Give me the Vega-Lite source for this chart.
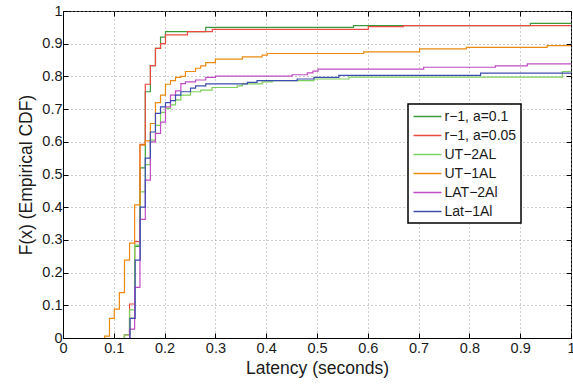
{
  "$schema": "https://vega.github.io/schema/vega-lite/v6.json",
  "width": 508,
  "height": 327,
  "autosize": "none",
  "padding": {"left": 63, "top": 11, "right": 2, "bottom": 47},
  "background": "white",
  "config": {
    "view": {"stroke": "black", "strokeWidth": 1},
    "font": "Liberation Sans",
    "axis": {
      "labelFont": "Liberation Sans",
      "titleFont": "Liberation Sans",
      "labelFontSize": 14.5,
      "titleFontSize": 17.5,
      "titleFontWeight": "normal",
      "labelColor": "#1a1a1a",
      "titleColor": "#1a1a1a",
      "domainColor": "black",
      "tickColor": "black",
      "gridColor": "#9a9a9a",
      "gridDash": [1, 3],
      "gridOpacity": 1,
      "tickSize": -5
    }
  },
  "data": {
    "values": [
      {"s": "r\u22121, a=0.1", "i": 0, "x": 0.121, "y": 0},
      {"s": "r\u22121, a=0.1", "i": 1, "x": 0.121, "y": 0.01},
      {"s": "r\u22121, a=0.1", "i": 2, "x": 0.131, "y": 0.06},
      {"s": "r\u22121, a=0.1", "i": 3, "x": 0.141, "y": 0.28},
      {"s": "r\u22121, a=0.1", "i": 4, "x": 0.1515, "y": 0.52},
      {"s": "r\u22121, a=0.1", "i": 5, "x": 0.162, "y": 0.753},
      {"s": "r\u22121, a=0.1", "i": 6, "x": 0.172, "y": 0.833},
      {"s": "r\u22121, a=0.1", "i": 7, "x": 0.182, "y": 0.886},
      {"s": "r\u22121, a=0.1", "i": 8, "x": 0.192, "y": 0.92},
      {"s": "r\u22121, a=0.1", "i": 9, "x": 0.2017, "y": 0.937},
      {"s": "r\u22121, a=0.1", "i": 10, "x": 0.281, "y": 0.95},
      {"s": "r\u22121, a=0.1", "i": 11, "x": 0.572, "y": 0.955},
      {"s": "r\u22121, a=0.1", "i": 12, "x": 0.92, "y": 0.962},
      {"s": "r\u22121, a=0.1", "i": 13, "x": 1.0, "y": 0.962},

      {"s": "r\u22121, a=0.05", "i": 0, "x": 0.121, "y": 0},
      {"s": "r\u22121, a=0.05", "i": 1, "x": 0.121, "y": 0.01},
      {"s": "r\u22121, a=0.05", "i": 2, "x": 0.131, "y": 0.104},
      {"s": "r\u22121, a=0.05", "i": 3, "x": 0.141, "y": 0.295},
      {"s": "r\u22121, a=0.05", "i": 4, "x": 0.1515, "y": 0.592},
      {"s": "r\u22121, a=0.05", "i": 5, "x": 0.162, "y": 0.776},
      {"s": "r\u22121, a=0.05", "i": 6, "x": 0.172, "y": 0.833},
      {"s": "r\u22121, a=0.05", "i": 7, "x": 0.182, "y": 0.886},
      {"s": "r\u22121, a=0.05", "i": 8, "x": 0.192, "y": 0.9},
      {"s": "r\u22121, a=0.05", "i": 9, "x": 0.2017, "y": 0.927},
      {"s": "r\u22121, a=0.05", "i": 10, "x": 0.245, "y": 0.937},
      {"s": "r\u22121, a=0.05", "i": 11, "x": 0.294, "y": 0.944},
      {"s": "r\u22121, a=0.05", "i": 12, "x": 0.601, "y": 0.952},
      {"s": "r\u22121, a=0.05", "i": 13, "x": 0.67, "y": 0.955},
      {"s": "r\u22121, a=0.05", "i": 14, "x": 1.0, "y": 0.955},

      {"s": "UT\u22122AL", "i": 0, "x": 0.121, "y": 0},
      {"s": "UT\u22122AL", "i": 1, "x": 0.121, "y": 0.01},
      {"s": "UT\u22122AL", "i": 2, "x": 0.131, "y": 0.086},
      {"s": "UT\u22122AL", "i": 3, "x": 0.141, "y": 0.284},
      {"s": "UT\u22122AL", "i": 4, "x": 0.1515, "y": 0.447},
      {"s": "UT\u22122AL", "i": 5, "x": 0.162, "y": 0.53},
      {"s": "UT\u22122AL", "i": 6, "x": 0.172, "y": 0.605},
      {"s": "UT\u22122AL", "i": 7, "x": 0.182, "y": 0.65},
      {"s": "UT\u22122AL", "i": 8, "x": 0.192, "y": 0.69},
      {"s": "UT\u22122AL", "i": 9, "x": 0.2017, "y": 0.702},
      {"s": "UT\u22122AL", "i": 10, "x": 0.2116, "y": 0.713},
      {"s": "UT\u22122AL", "i": 11, "x": 0.2215, "y": 0.728},
      {"s": "UT\u22122AL", "i": 12, "x": 0.232, "y": 0.743},
      {"s": "UT\u22122AL", "i": 13, "x": 0.251, "y": 0.753},
      {"s": "UT\u22122AL", "i": 14, "x": 0.271, "y": 0.758},
      {"s": "UT\u22122AL", "i": 15, "x": 0.2935, "y": 0.766},
      {"s": "UT\u22122AL", "i": 16, "x": 0.343, "y": 0.771},
      {"s": "UT\u22122AL", "i": 17, "x": 0.353, "y": 0.777},
      {"s": "UT\u22122AL", "i": 18, "x": 0.392, "y": 0.783},
      {"s": "UT\u22122AL", "i": 19, "x": 0.412, "y": 0.787},
      {"s": "UT\u22122AL", "i": 20, "x": 0.494, "y": 0.792},
      {"s": "UT\u22122AL", "i": 21, "x": 0.563, "y": 0.798},
      {"s": "UT\u22122AL", "i": 22, "x": 0.983, "y": 0.815},
      {"s": "UT\u22122AL", "i": 23, "x": 1.0, "y": 0.815},

      {"s": "UT\u22121AL", "i": 0, "x": 0.082, "y": 0},
      {"s": "UT\u22121AL", "i": 1, "x": 0.082, "y": 0.006},
      {"s": "UT\u22121AL", "i": 2, "x": 0.0915, "y": 0.06},
      {"s": "UT\u22121AL", "i": 3, "x": 0.101, "y": 0.088},
      {"s": "UT\u22121AL", "i": 4, "x": 0.111, "y": 0.139},
      {"s": "UT\u22121AL", "i": 5, "x": 0.121, "y": 0.238},
      {"s": "UT\u22121AL", "i": 6, "x": 0.131, "y": 0.29},
      {"s": "UT\u22121AL", "i": 7, "x": 0.141, "y": 0.407},
      {"s": "UT\u22121AL", "i": 8, "x": 0.1515, "y": 0.59},
      {"s": "UT\u22121AL", "i": 9, "x": 0.162, "y": 0.603},
      {"s": "UT\u22121AL", "i": 10, "x": 0.172, "y": 0.656},
      {"s": "UT\u22121AL", "i": 11, "x": 0.182, "y": 0.72},
      {"s": "UT\u22121AL", "i": 12, "x": 0.192, "y": 0.743},
      {"s": "UT\u22121AL", "i": 13, "x": 0.2017, "y": 0.776},
      {"s": "UT\u22121AL", "i": 14, "x": 0.2116, "y": 0.787},
      {"s": "UT\u22121AL", "i": 15, "x": 0.2215, "y": 0.797},
      {"s": "UT\u22121AL", "i": 16, "x": 0.232, "y": 0.8},
      {"s": "UT\u22121AL", "i": 17, "x": 0.241, "y": 0.815},
      {"s": "UT\u22121AL", "i": 18, "x": 0.261, "y": 0.825},
      {"s": "UT\u22121AL", "i": 19, "x": 0.271, "y": 0.832},
      {"s": "UT\u22121AL", "i": 20, "x": 0.281, "y": 0.842},
      {"s": "UT\u22121AL", "i": 21, "x": 0.3, "y": 0.853},
      {"s": "UT\u22121AL", "i": 22, "x": 0.353, "y": 0.86},
      {"s": "UT\u22121AL", "i": 23, "x": 0.392, "y": 0.865},
      {"s": "UT\u22121AL", "i": 24, "x": 0.402, "y": 0.87},
      {"s": "UT\u22121AL", "i": 25, "x": 0.592, "y": 0.875},
      {"s": "UT\u22121AL", "i": 26, "x": 0.702, "y": 0.884},
      {"s": "UT\u22121AL", "i": 27, "x": 0.794, "y": 0.889},
      {"s": "UT\u22121AL", "i": 28, "x": 0.953, "y": 0.894},
      {"s": "UT\u22121AL", "i": 29, "x": 1.0, "y": 0.894},

      {"s": "LAT\u22122Al", "i": 0, "x": 0.131, "y": 0},
      {"s": "LAT\u22122Al", "i": 1, "x": 0.131, "y": 0.027},
      {"s": "LAT\u22122Al", "i": 2, "x": 0.141, "y": 0.155},
      {"s": "LAT\u22122Al", "i": 3, "x": 0.1515, "y": 0.363},
      {"s": "LAT\u22122Al", "i": 4, "x": 0.162, "y": 0.483},
      {"s": "LAT\u22122Al", "i": 5, "x": 0.172, "y": 0.6},
      {"s": "LAT\u22122Al", "i": 6, "x": 0.182, "y": 0.626},
      {"s": "LAT\u22122Al", "i": 7, "x": 0.192, "y": 0.66},
      {"s": "LAT\u22122Al", "i": 8, "x": 0.2017, "y": 0.707},
      {"s": "LAT\u22122Al", "i": 9, "x": 0.2116, "y": 0.743},
      {"s": "LAT\u22122Al", "i": 10, "x": 0.2215, "y": 0.756},
      {"s": "LAT\u22122Al", "i": 11, "x": 0.232, "y": 0.778},
      {"s": "LAT\u22122Al", "i": 12, "x": 0.241, "y": 0.783},
      {"s": "LAT\u22122Al", "i": 13, "x": 0.261, "y": 0.789},
      {"s": "LAT\u22122Al", "i": 14, "x": 0.281, "y": 0.797},
      {"s": "LAT\u22122Al", "i": 15, "x": 0.3, "y": 0.801},
      {"s": "LAT\u22122Al", "i": 16, "x": 0.451, "y": 0.805},
      {"s": "LAT\u22122Al", "i": 17, "x": 0.481, "y": 0.811},
      {"s": "LAT\u22122Al", "i": 18, "x": 0.492, "y": 0.816},
      {"s": "LAT\u22122Al", "i": 19, "x": 0.502, "y": 0.822},
      {"s": "LAT\u22122Al", "i": 20, "x": 0.71, "y": 0.828},
      {"s": "LAT\u22122Al", "i": 21, "x": 0.851, "y": 0.832},
      {"s": "LAT\u22122Al", "i": 22, "x": 0.914, "y": 0.838},
      {"s": "LAT\u22122Al", "i": 23, "x": 1.0, "y": 0.838},

      {"s": "Lat\u22121Al", "i": 0, "x": 0.132, "y": 0},
      {"s": "Lat\u22121Al", "i": 1, "x": 0.132, "y": 0.06},
      {"s": "Lat\u22121Al", "i": 2, "x": 0.142, "y": 0.238},
      {"s": "Lat\u22121Al", "i": 3, "x": 0.152, "y": 0.4},
      {"s": "Lat\u22121Al", "i": 4, "x": 0.162, "y": 0.55},
      {"s": "Lat\u22121Al", "i": 5, "x": 0.172, "y": 0.63},
      {"s": "Lat\u22121Al", "i": 6, "x": 0.182, "y": 0.687},
      {"s": "Lat\u22121Al", "i": 7, "x": 0.192, "y": 0.707},
      {"s": "Lat\u22121Al", "i": 8, "x": 0.2017, "y": 0.72},
      {"s": "Lat\u22121Al", "i": 9, "x": 0.2116, "y": 0.726},
      {"s": "Lat\u22121Al", "i": 10, "x": 0.2215, "y": 0.743},
      {"s": "Lat\u22121Al", "i": 11, "x": 0.232, "y": 0.753},
      {"s": "Lat\u22121Al", "i": 12, "x": 0.251, "y": 0.764},
      {"s": "Lat\u22121Al", "i": 13, "x": 0.261, "y": 0.771},
      {"s": "Lat\u22121Al", "i": 14, "x": 0.281, "y": 0.777},
      {"s": "Lat\u22121Al", "i": 15, "x": 0.363, "y": 0.782},
      {"s": "Lat\u22121Al", "i": 16, "x": 0.382, "y": 0.787},
      {"s": "Lat\u22121Al", "i": 17, "x": 0.461, "y": 0.792},
      {"s": "Lat\u22121Al", "i": 18, "x": 0.494, "y": 0.797},
      {"s": "Lat\u22121Al", "i": 19, "x": 0.543, "y": 0.803},
      {"s": "Lat\u22121Al", "i": 20, "x": 0.822, "y": 0.81},
      {"s": "Lat\u22121Al", "i": 21, "x": 1.0, "y": 0.81}
    ]
  },
  "layer": [
    {
      "mark": {"type": "line", "interpolate": "step-after", "strokeWidth": 1.2, "clip": true},
      "encoding": {
        "x": {
          "field": "x", "type": "quantitative",
          "scale": {"domain": [0, 1], "nice": false},
          "axis": {"title": "Latency (seconds)", "values": [0, 0.1, 0.2, 0.3, 0.4, 0.5, 0.6, 0.7, 0.8, 0.9, 1], "format": "~g", "labelPadding": 8, "titlePadding": 5, "labelFlush": false}
        },
        "y": {
          "field": "y", "type": "quantitative",
          "scale": {"domain": [0, 1], "nice": false},
          "axis": {"title": "F(x) (Empirical CDF)", "values": [0, 0.1, 0.2, 0.3, 0.4, 0.5, 0.6, 0.7, 0.8, 0.9, 1], "format": "~g", "labelPadding": 6, "titlePadding": 6, "labelFlush": false}
        },
        "order": {"field": "i", "type": "quantitative"},
        "color": {
          "field": "s", "type": "nominal",
          "scale": {
            "domain": ["r\u22121, a=0.1", "r\u22121, a=0.05", "UT\u22122AL", "UT\u22121AL", "LAT\u22122Al", "Lat\u22121Al"],
            "range": ["#3a9a3a", "#ec4a40", "#7cd05c", "#ec8a10", "#c04cc4", "#3c4cb0"]
          },
          "legend": {
            "title": null,
            "orient": "none",
            "legendX": 345,
            "legendY": 93,
            "symbolType": "M-1,0H3",
            "symbolSize": 196,
            "symbolStrokeWidth": 1.5,
            "labelOffset": 16,
            "labelFont": "Liberation Sans",
            "labelFontSize": 14,
            "labelColor": "#1a1a1a",
            "labelExpr": "datum.label + '\u00a0\u00a0\u00a0\u00a0'",
            "rowPadding": 4,
            "padding": 4.5,
            "strokeColor": "black",
            "fillColor": "white",
            "encode": {"legend": {"update": {"strokeWidth": {"value": 1.5}}}}
          }
        }
      }
    },
    {
      "mark": {"type": "line", "opacity": 0},
      "encoding": {
        "x": {
          "field": "x", "type": "quantitative",
          "scale": {"domain": [0, 1], "nice": false},
          "axis": {"orient": "top", "title": null, "labels": false, "grid": false, "domain": false, "values": [0, 0.1, 0.2, 0.3, 0.4, 0.5, 0.6, 0.7, 0.8, 0.9, 1]}
        },
        "y": {
          "field": "y", "type": "quantitative",
          "scale": {"domain": [0, 1], "nice": false},
          "axis": {"orient": "right", "title": null, "labels": false, "grid": false, "domain": false, "values": [0, 0.1, 0.2, 0.3, 0.4, 0.5, 0.6, 0.7, 0.8, 0.9, 1]}
        },
        "detail": {"field": "s", "type": "nominal"}
      }
    }
  ],
  "resolve": {"axis": {"x": "independent", "y": "independent"}}
}
